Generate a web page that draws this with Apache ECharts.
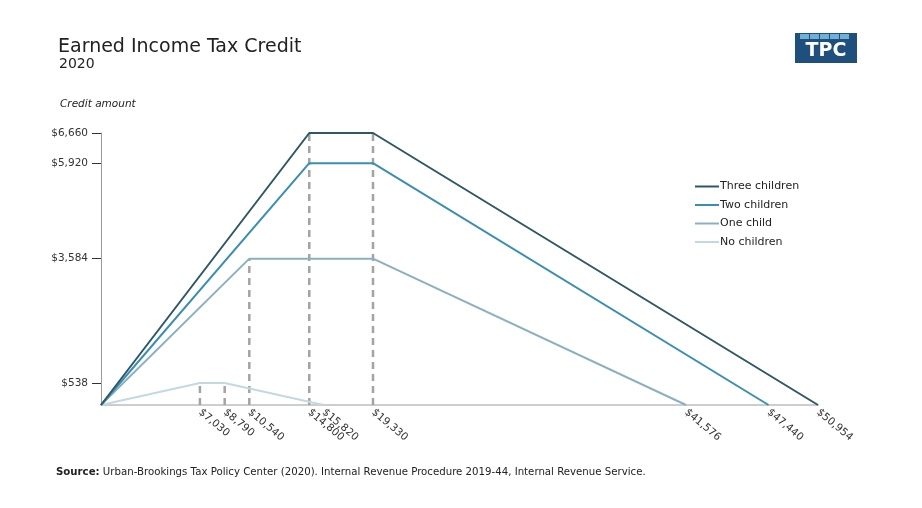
<!DOCTYPE html>
<html style="height: 100%">
<head>
	<meta charset="utf-8">
</head>
<body style="height: 100%; margin: 0; background-color: #fff;">
<div id="container" style="width: 922px; height: 508px"></div>
<script type="text/javascript" src="https://cdn.jsdelivr.net/npm/echarts@6/dist/echarts.min.js"></script>
<script type="text/javascript">
	// EITC schedule, 2020 (earnings, credit)
	var seriesNames = ['Three children', 'Two children', 'One child', 'No children'];
	var seriesColors = ['#2f5766', '#3a8fb0', '#8bb0bf', '#c3d9e1'];
	var threeChildren = [[0, 0], [14800, 6660], [19330, 6660], [50954, 0]];
	var twoChildren = [[0, 0], [14800, 5920], [19330, 5920], [47440, 0]];
	var oneChild = [[0, 0], [10540, 3584], [19330, 3584], [41576, 0]];
	var noChildren = [[0, 0], [7030, 538], [8790, 538], [15820, 0]];

	// dashed guides at the phase-in / phase-out points
	var guideX = [7030, 8790, 10540, 14800, 19330];
	var guideTop = [538, 538, 3584, 6660, 6660];

	var xTicks = [7030, 8790, 10540, 14800, 15820, 19330, 41576, 47440, 50954];
	var yTicks = [538, 3584, 5920, 6660];

	var dom = document.getElementById("container");
	var myChart = echarts.init(dom);

	var fontFamily = '"DejaVu Sans", "Noto Sans", sans-serif';
	function money(v) {
		return '$' + Number(v).toLocaleString('en-US');
	}

	var allLines = [threeChildren, twoChildren, oneChild, noChildren];
	var series = [];

	guideX.forEach(function(x, i) {
		series.push({
			type: 'line',
			data: [[x, 0], [x, guideTop[i]]],
			symbol: 'none',
			silent: true,
			z: 1,
			lineStyle: { color: '#a3a3a3', width: 2.5, type: [7, 5] }
		});
	});

	allLines.forEach(function(d, i) {
		series.push({
			name: seriesNames[i],
			type: 'line',
			data: d,
			symbol: 'none',
			z: 3 + (3 - i),
			itemStyle: { color: seriesColors[i] },
			lineStyle: { color: seriesColors[i], width: 2 }
		});
	});

	var option = {
		animation: false,
		textStyle: { fontFamily: fontFamily },
		title: [{
			text: 'Earned Income Tax Credit',
			left: 53,
			top: 33,
			textStyle: { fontSize: 19, fontWeight: 'normal', color: '#222', fontFamily: fontFamily }
		}, {
			text: '2020',
			left: 54,
			top: 52,
			textStyle: { fontSize: 14, fontWeight: 'normal', color: '#222', fontFamily: fontFamily }
		}, {
			text: 'Credit amount',
			left: 55,
			top: 94,
			textStyle: { fontSize: 10.5, fontWeight: 'normal', fontStyle: 'italic', color: '#222', fontFamily: fontFamily }
		}, {
			text: '{b|Source:} Urban-Brookings Tax Policy Center (2020). Internal Revenue Procedure 2019-44, Internal Revenue Service.',
			left: 51,
			top: 462,
			textStyle: {
				fontSize: 10.2, fontWeight: 'normal', color: '#222', fontFamily: fontFamily,
				rich: { b: { fontSize: 10.2, fontWeight: 'bold', color: '#222', fontFamily: fontFamily } }
			}
		}],
		legend: {
			data: seriesNames,
			orient: 'vertical',
			left: 690,
			top: 176,
			icon: 'rect',
			itemWidth: 24,
			itemHeight: 2,
			itemGap: 7.5,
			textStyle: { fontSize: 11, color: '#222', padding: [0, 0, 0, -4] }
		},
		grid: {
			left: 101,
			right: 104,
			top: 133,
			bottom: 103,
			containLabel: false
		},
		xAxis: {
			type: 'value',
			min: 0,
			max: 50954,
			splitLine: { show: false },
			axisLine: { show: true, lineStyle: { color: '#bdbdbd', width: 1.5 } },
			axisTick: { show: false },
			axisLabel: {
				customValues: xTicks,
				rotate: -40,
				margin: 6,
				fontSize: 10.5,
				color: '#333',
				formatter: money
			}
		},
		yAxis: {
			type: 'value',
			min: 0,
			max: 6660,
			splitLine: { show: false },
			axisLine: { show: true, lineStyle: { color: '#999', width: 1 } },
			axisTick: {
				show: true,
				customValues: yTicks,
				length: 9,
				lineStyle: { color: '#333', width: 1 }
			},
			axisLabel: {
				customValues: yTicks,
				margin: 13,
				fontSize: 10.5,
				color: '#333',
				formatter: money
			}
		},
		graphic: [{
			type: 'group',
			left: 795,
			top: 33,
			children: [{
				type: 'rect',
				shape: { x: 0, y: 0, width: 62, height: 30 },
				style: { fill: '#1f4f7d' }
			}, {
				type: 'rect', shape: { x: 5, y: 1, width: 9, height: 5 }, style: { fill: '#6fb1d6' }
			}, {
				type: 'rect', shape: { x: 15, y: 1, width: 9, height: 5 }, style: { fill: '#6fb1d6' }
			}, {
				type: 'rect', shape: { x: 25, y: 1, width: 9, height: 5 }, style: { fill: '#6fb1d6' }
			}, {
				type: 'rect', shape: { x: 35, y: 1, width: 9, height: 5 }, style: { fill: '#6fb1d6' }
			}, {
				type: 'rect', shape: { x: 45, y: 1, width: 9, height: 5 }, style: { fill: '#6fb1d6' }
			}, {
				type: 'text',
				style: {
					text: 'TPC', x: 31, y: 18, align: 'center', verticalAlign: 'middle',
					fill: '#fff', font: 'bold 19px ' + fontFamily
				}
			}]
		}],
		series: series
	};
	myChart.setOption(option);
</script>
</body>
</html>
